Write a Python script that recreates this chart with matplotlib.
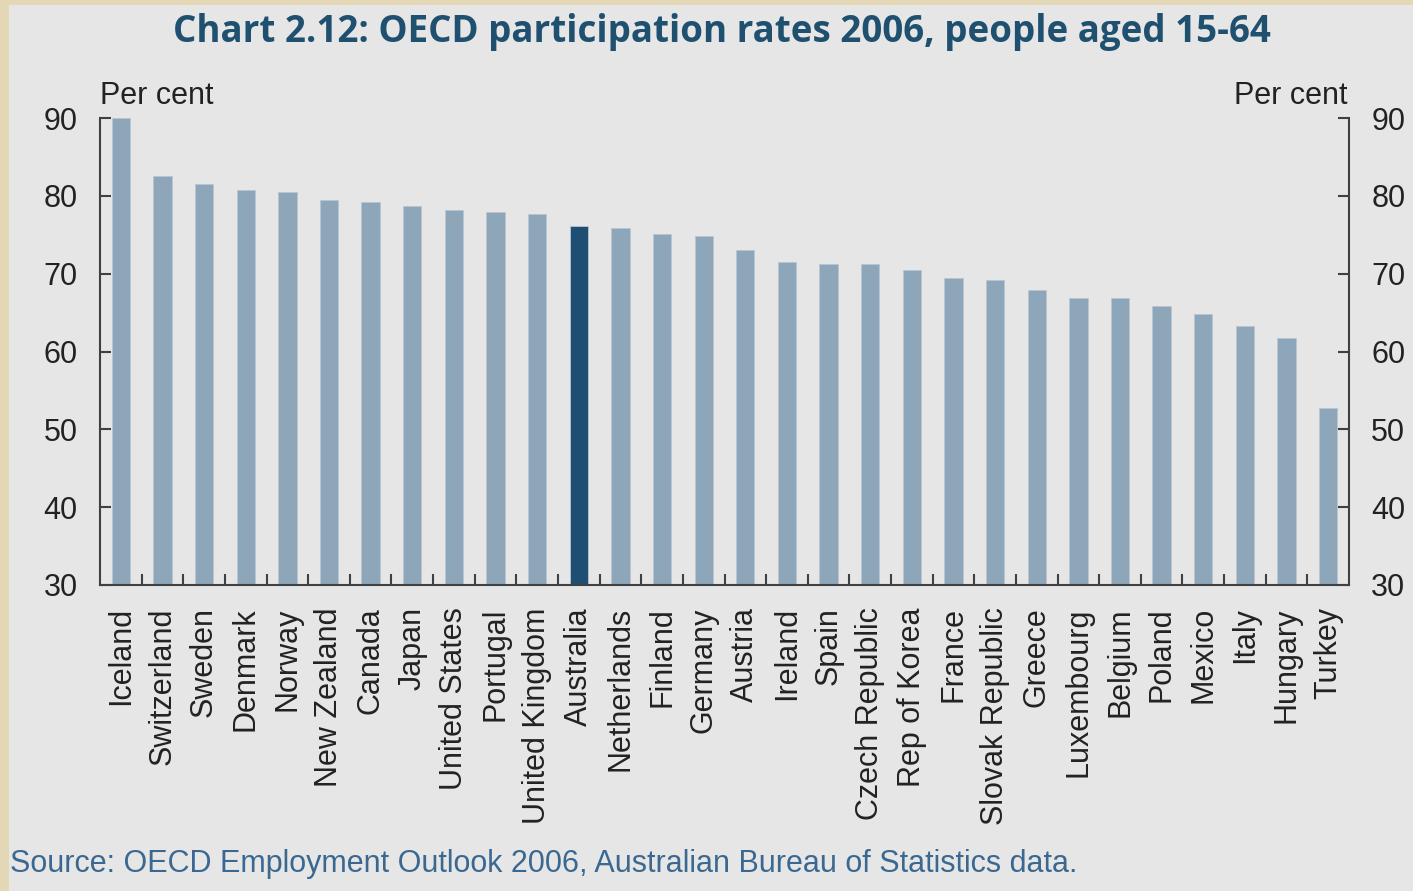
import numpy as np
import matplotlib
matplotlib.use('Agg')
import matplotlib.pyplot as plt
from matplotlib.patches import Rectangle

countries = ['Iceland', 'Switzerland', 'Sweden', 'Denmark', 'Norway', 'New Zealand', 'Canada',
             'Japan', 'United States', 'Portugal', 'United Kingdom', 'Australia', 'Netherlands',
             'Finland', 'Germany', 'Austria', 'Ireland', 'Spain', 'Czech Republic', 'Rep of Korea',
             'France', 'Slovak Republic', 'Greece', 'Luxembourg', 'Belgium', 'Poland', 'Mexico',
             'Italy', 'Hungary', 'Turkey']
rates = [90.0, 82.5, 81.5, 80.7, 80.5, 79.5, 79.2, 78.7, 78.2, 77.9, 77.7, 76.1, 75.9,
         75.1, 74.8, 73.0, 71.5, 71.2, 71.2, 70.5, 69.4, 69.2, 67.9, 66.9, 66.9, 65.8,
         64.8, 63.3, 61.7, 52.7]
highlight = 'Australia'
yticks = [30, 40, 50, 60, 70, 80, 90]

plt.rcParams['font.family'] = ['Liberation Sans', 'DejaVu Sans']

W, H = 1413, 891
fig = plt.figure(figsize=(W / 100, H / 100), dpi=100)
fig.patch.set_facecolor('#e3d7b5')
# inner grey panel, beige strip left and top
fig.patches.append(Rectangle((9 / W, 0), 1, 1 - 5 / H, transform=fig.transFigure,
                             facecolor='#e6e6e6', edgecolor='none', zorder=-5))

ax = fig.add_axes([100 / W, 1 - 585 / H, (1349 - 100) / W, (585 - 118) / H])
ax.set_zorder(2)
ax.set_facecolor('none')

x = np.arange(len(countries))
colors = ['#1f4e73' if c == highlight else '#8ea6ba' for c in countries]
ax.bar(x, rates, width=0.44, color=colors, edgecolor='#b8c6d2', linewidth=0.6, bottom=0)
ax.set_xlim(-0.5, len(countries) - 0.5)
ax.set_ylim(30, 90)

spine_c = '#404040'
for s in ['left', 'right', 'bottom']:
    ax.spines[s].set_color(spine_c)
    ax.spines[s].set_linewidth(1.5)
ax.spines['top'].set_visible(False)

ax.set_yticks(yticks)
ax.tick_params(axis='y', direction='in', length=8, width=1.5, color=spine_c,
               labelsize=22, labelcolor='#222222', pad=16, left=True, right=True,
               labelleft=True, labelright=True)

ax.set_xticks(x)
ax.set_xticklabels(countries, rotation=90, fontsize=22, color='#222222')
ax.tick_params(axis='x', which='major', length=0, pad=16)
ax.set_xticks(np.arange(len(countries) - 1) + 0.5, minor=True)
ax.tick_params(axis='x', which='minor', direction='in', length=8, width=1.5, color=spine_c)

fig.text(100 / W, 1 - 96 / H, 'Per cent', ha='left', va='center', fontsize=22, color='#222222')
fig.text(1347 / W, 1 - 96 / H, 'Per cent', ha='right', va='center', fontsize=22, color='#222222')

fig.text(722 / W, 1 - 32 / H, 'Chart 2.12: OECD participation rates 2006, people aged 15-64',
         ha='center', va='center', fontsize=26.5, fontweight='bold', color='#1f5070',
         family=['Open Sans', 'DejaVu Sans'])
fig.text(10 / W, 1 - 864 / H, 'Source: OECD Employment Outlook 2006, Australian Bureau of Statistics data.',
         ha='left', va='center', fontsize=22, color='#3b6890')

fig.savefig('out.png', dpi=100, facecolor=fig.get_facecolor())
